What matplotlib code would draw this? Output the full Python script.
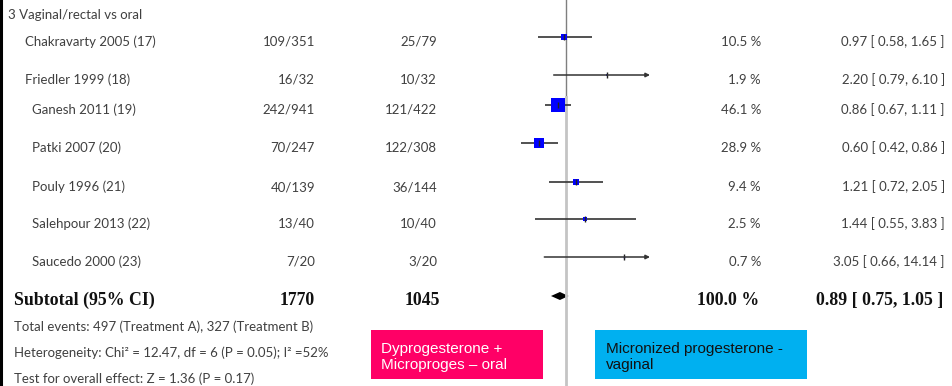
import matplotlib
matplotlib.use('Agg')
import matplotlib.pyplot as plt
from matplotlib.patches import Rectangle

# study level data (odds ratios, 95% CI, weights)
studies = ["Chakravarty 2005 (17)", "Friedler 1999 (18)", "Ganesh 2011 (19)",
           "Patki 2007 (20)", "Pouly 1996 (21)", "Salehpour 2013 (22)",
           "Saucedo 2000 (23)"]
events_a = [109, 16, 242, 70, 40, 13, 7]
total_a = [351, 32, 941, 247, 139, 40, 20]
events_b = [25, 10, 121, 122, 36, 10, 3]
total_b = [79, 32, 422, 308, 144, 40, 20]
weights = [10.5, 1.9, 46.1, 28.9, 9.4, 2.5, 0.7]
odds = [0.97, 2.20, 0.86, 0.60, 1.21, 1.44, 3.05]
ci_lo = [0.58, 0.79, 0.67, 0.42, 0.72, 0.55, 0.66]
ci_hi = [1.65, 6.10, 1.11, 0.86, 2.05, 3.83, 14.14]
pooled = [0.89, 0.75, 1.05]
x_range = [0.2, 5]

group_label = "3 Vaginal/rectal vs oral"
footer = ["Total events: %d (Treatment A), %d (Treatment B)" % (sum(events_a), sum(events_b)),
          "Heterogeneity: Chi\u00b2 = 12.47, df = 6 (P = 0.05); I\u00b2 =52%",
          "Test for overall effect: Z = 1.36 (P = 0.17)"]
box_a = "Dyprogesterone +\nMicroproges \u2013 oral"
box_b = "Micronized progesterone -\nvaginal"

# row layout (pixel rows of the table)
row_y = [37, 75, 105, 143, 182, 219, 257]
name_x = [25, 25, 32, 32, 32, 32, 32]
sum_y = 296

W, H = 953, 386
fig = plt.figure(figsize=(W / 100, H / 100), dpi=100)
ax = fig.add_axes([0, 0, 1, 1])
ax.set_xlim(0, W)
ax.set_ylim(H, 0)
ax.axis('off')

# forest panel, log odds ratio scale
fx = fig.add_axes([482 / W, 0, 168 / W, 1])
fx.set_xscale('log')
fx.set_xlim(*x_range)
fx.set_ylim(H, 0)
fx.axis('off')

txt = dict(family='Lato', fontsize=9.5, color='#404040')
bold = dict(family='Liberation Serif', fontsize=12.8, fontweight='bold', color='#111111')

ax.axvline(1.5, color='black', lw=2.2)
ax.text(8, 19, group_label, va='baseline', **txt)

for i, name in enumerate(studies):
    yb = row_y[i] + 9
    ax.text(name_x[i], yb, name, va='baseline', **txt)
    ax.text(315, yb, "%d/%d" % (events_a[i], total_a[i]), ha='right', va='baseline', **txt)
    ax.text(437, yb, "%d/%d" % (events_b[i], total_b[i]), ha='right', va='baseline', **txt)
    ax.text(761, yb, "%.1f %%" % weights[i], ha='right', va='baseline', **txt)
    ax.text(945, yb, "%.2f [ %.2f, %.2f ]" % (odds[i], ci_lo[i], ci_hi[i]),
            ha='right', va='baseline', **txt)

# summary row
ax.text(14, sum_y + 9, "Subtotal (95% CI)", va='baseline', **bold)
ax.text(315, sum_y + 9, str(sum(total_a)), ha='right', va='baseline', **bold)
ax.text(440, sum_y + 9, str(sum(total_b)), ha='right', va='baseline', **bold)
ax.text(759, sum_y + 9, "%.1f %%" % sum(weights), ha='right', va='baseline', **bold)
ax.text(943, sum_y + 9, "%.2f [ %.2f, %.2f ]" % tuple(pooled), ha='right', va='baseline', **bold)

for k, line in enumerate(footer):
    ax.text(14, 331 + k * 26, line, va='baseline', **txt)

# no-effect line
fx.plot([1, 1], [0, 97], color='#7f7f7f', lw=1)
fx.plot([1, 1], [97, H], color='#c4c4c4', lw=2)

# study CIs, squares and point ticks
for i in range(len(studies)):
    y = row_y[i]
    if ci_hi[i] > x_range[1]:
        fx.annotate('', xy=(x_range[1], y), xytext=(ci_lo[i], y),
                    arrowprops=dict(arrowstyle='-|>', mutation_scale=6, lw=1.1,
                                    color='#333333', shrinkA=0, shrinkB=0))
    else:
        fx.plot([ci_lo[i], ci_hi[i]], [y, y], color='#333333', lw=1.2,
                solid_capstyle='butt')
    side = 2.0 * weights[i] ** 0.5 * 0.72
    fx.plot([odds[i]], [y], marker='s', ms=side, color='#0000ff', mew=0)
    fx.plot([odds[i]], [y], marker='|', ms=4, color='#222222', mew=1)

# pooled diamond
est, lo, hi = pooled
fx.fill([lo, est, hi, est], [sum_y, sum_y - 4, sum_y, sum_y + 4], color='black', lw=0)

# treatment labels
ax.add_patch(Rectangle((371, 330), 172, 49, color='#ff0066', lw=0))
ax.text(381, 369, box_a, va='baseline', family='Liberation Sans', fontsize=11,
        color='white', linespacing=1.15)
ax.add_patch(Rectangle((595, 330), 212, 49, color='#00b0f0', lw=0))
ax.text(606, 369, box_b, va='baseline', family='Liberation Sans', fontsize=11,
        color='#111111', linespacing=1.15)

plt.savefig('out.png', dpi=100)
